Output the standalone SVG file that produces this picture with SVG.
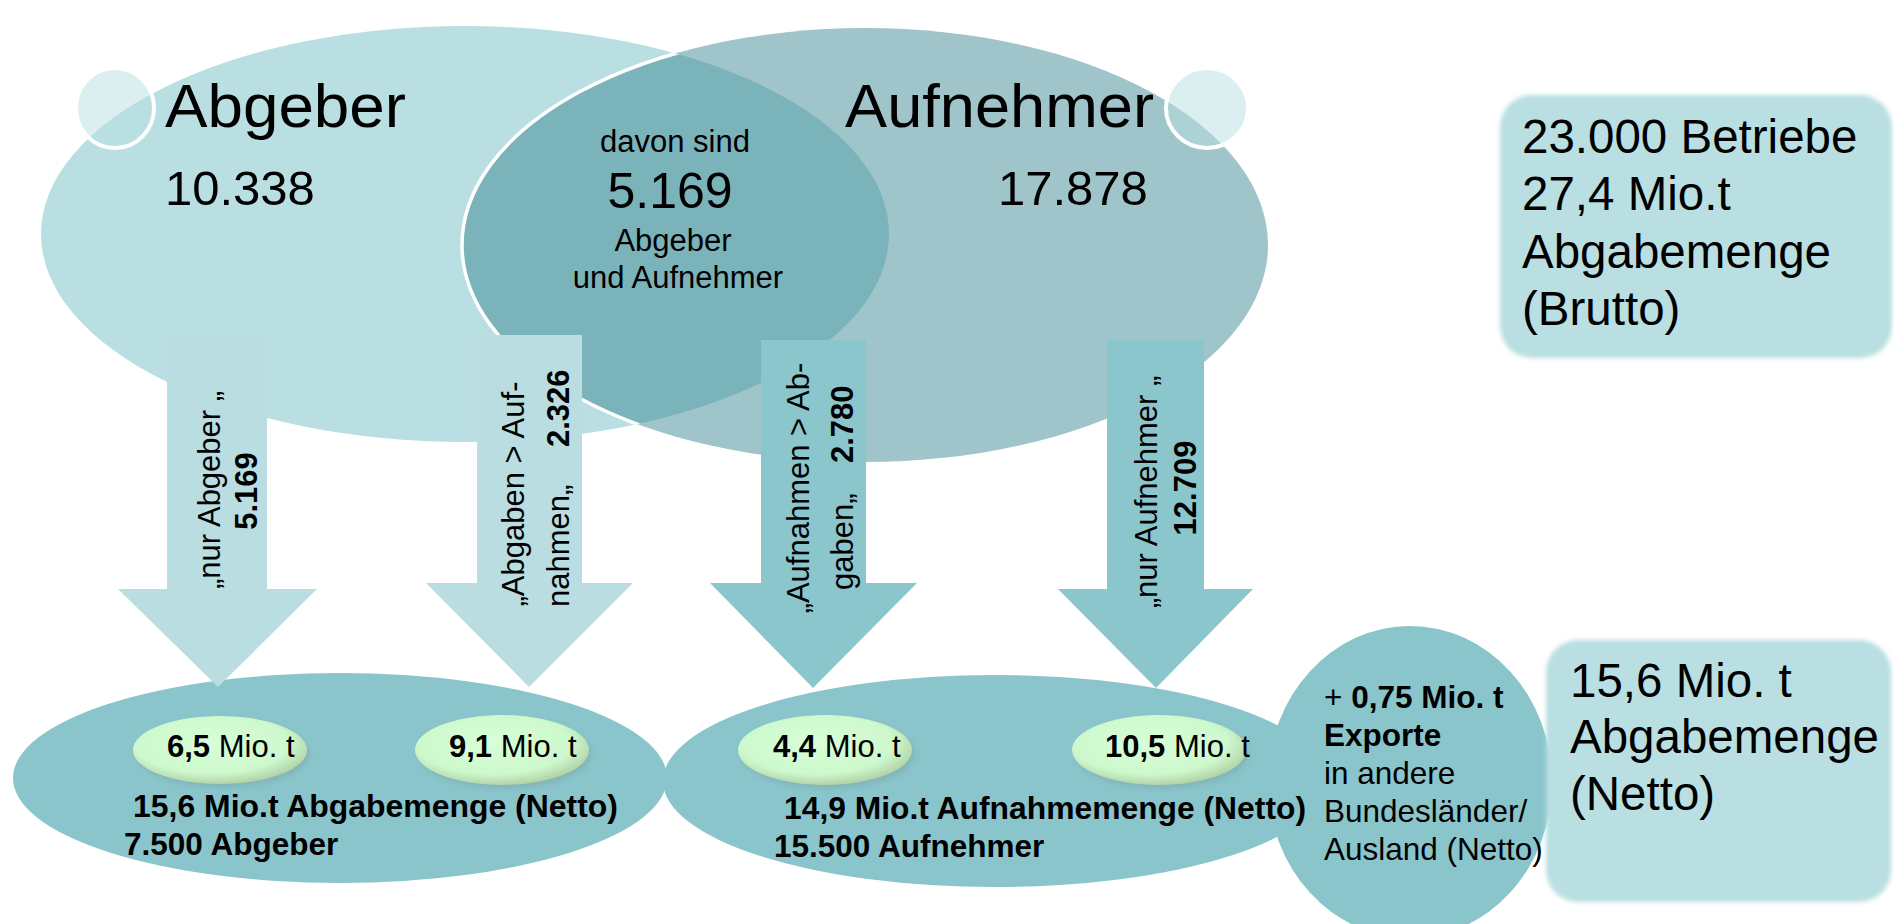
<svg xmlns="http://www.w3.org/2000/svg" width="1894" height="924" viewBox="0 0 1894 924">
<style>
text{font-family:"Liberation Sans",Arial,Helvetica,sans-serif;fill:#000}
.big{font-size:62px}
.num{font-size:49px}
.mid{font-size:31px}
.box{font-size:47.5px}
.arr{font-size:31px}
.b{font-weight:bold}
.lightA{fill:#b9dde1}
.darkA{fill:#8bc6cd}
.bot{fill:#8ac5cc}
.knob{fill:#b9dfe2;fill-opacity:0.5;stroke:#fff;stroke-width:4}
.pill{fill:url(#gr)}
</style>
<defs>
<clipPath id="clipAbg"><ellipse cx="465" cy="234" rx="424" ry="208"/></clipPath>
<radialGradient id="gr" cx="45%" cy="40%" r="62%">
<stop offset="0" stop-color="#d8ffd8"/>
<stop offset="0.72" stop-color="#cdf8cc"/>
<stop offset="1" stop-color="#aecfa4"/>
</radialGradient>
<filter id="soft" x="-5%" y="-5%" width="110%" height="110%"><feGaussianBlur stdDeviation="2.2"/></filter>
<filter id="sh" x="-10%" y="-10%" width="120%" height="130%"><feGaussianBlur stdDeviation="2.5"/></filter>
</defs>

<g id="abgeber">
<ellipse cx="465" cy="234" rx="424" ry="208" fill="#b9dfe2"/>
</g>
<g id="aufnehmer">
<ellipse cx="865" cy="245" rx="403" ry="217" fill="#9fc4c9"/>
<ellipse cx="865" cy="245" rx="403" ry="217" fill="#7ab3ba" clip-path="url(#clipAbg)"/>
<ellipse cx="865" cy="245" rx="403" ry="217" fill="none" stroke="#fff" stroke-width="3.5" clip-path="url(#clipAbg)"/>
</g>
<g id="knob-abgeber"><ellipse class="knob" cx="115" cy="108" rx="39" ry="40"/></g>
<g id="knob-aufnehmer"><ellipse class="knob" cx="1207" cy="108" rx="41" ry="40"/></g>

<g id="label-abgeber">
<text class="big" x="165" y="127" textLength="241" lengthAdjust="spacingAndGlyphs">Abgeber</text>
<text class="num" x="165" y="205">10.338</text>
</g>
<g id="label-aufnehmer">
<text class="big" x="845" y="127" textLength="309" lengthAdjust="spacingAndGlyphs">Aufnehmer</text>
<text class="num" x="998" y="205">17.878</text>
</g>
<g id="label-beide" text-anchor="middle">
<text class="mid" x="675" y="152">davon sind</text>
<text x="670" y="208" style="font-size:50px">5.169</text>
<text class="mid" x="673" y="251">Abgeber</text>
<text class="mid" x="678" y="288">und Aufnehmer</text>
</g>

<g id="box-brutto">
<rect x="1500" y="95" width="392" height="263" rx="32" fill="#b9dfe2" filter="url(#soft)"/>
<text class="box" x="1522" y="153">23.000 Betriebe</text>
<text class="box" x="1522" y="210">27,4 Mio.t</text>
<text class="box" x="1522" y="268">Abgabemenge</text>
<text class="box" x="1522" y="325">(Brutto)</text>
</g>

<g id="ellipse-abgabe">
<ellipse class="bot" cx="340" cy="778" rx="327" ry="105"/>
</g>
<g id="ellipse-aufnahme">
<ellipse class="bot" cx="995" cy="781" rx="332" ry="106"/>
</g>
<g id="circle-export">
<ellipse class="bot" cx="1410" cy="782" rx="142" ry="156"/>
<text class="mid" x="1324" y="708" style="font-size:31.5px">+ <tspan class="b">0,75 Mio. t</tspan></text>
<text class="mid b" x="1324" y="746" style="font-size:31.5px">Exporte</text>
<text class="mid" x="1324" y="784" style="font-size:31.5px">in andere</text>
<text class="mid" x="1324" y="822" style="font-size:31.5px">Bundesländer/</text>
<text class="mid" x="1324" y="860" style="font-size:31.5px">Ausland (Netto)</text>
</g>

<g id="box-netto">
<rect x="1546" y="640" width="345" height="262" rx="32" fill="#b9dfe2" filter="url(#soft)"/>
<text class="box" x="1570" y="697">15,6 Mio. t</text>
<text class="box" x="1570" y="753">Abgabemenge</text>
<text class="box" x="1570" y="810">(Netto)</text>
</g>

<g id="connectors">
<path id="arrow-nur-abgeber" class="lightA" d="M167,335 H267 V589 H317 L218,687 L118,589 H167 Z"/>
<path id="arrow-abgaben" class="lightA" d="M477,335 H582 V583 H633 L529,687 L426,583 H477 Z"/>
<path id="arrow-aufnahmen" class="darkA" d="M761,340 H866 V583 H917 L813,688 L710,583 H761 Z"/>
<path id="arrow-nur-aufnehmer" class="darkA" d="M1107,340 H1204 V589 H1253 L1156,688 L1058,589 H1107 Z"/>
<g class="arr" text-anchor="middle">
<text transform="translate(220,490) rotate(-90)">„nur Abgeber „</text>
<text class="b" transform="translate(257,491) rotate(-90)">5.169</text>
<text transform="translate(524,494) rotate(-90)">„Abgaben &gt; Auf-</text>
<text transform="translate(1157,492) rotate(-90)">„nur Aufnehmer „</text>
<text class="b" transform="translate(1196,488) rotate(-90)">12.709</text>
<text transform="translate(809,488) rotate(-90)">„Aufnahmen &gt; Ab-</text>
</g>
<g class="arr">
<text transform="translate(569,491) rotate(-90)" x="-116">nahmen„<tspan class="b" x="44">2.326</tspan></text>
<text transform="translate(853,488) rotate(-90)" x="-102">gaben„<tspan class="b" x="25">2.780</tspan></text>
</g>
</g>

<g id="pill-65">
<ellipse cx="223" cy="754" rx="87" ry="34" fill="#7aa9a8" opacity="0.5" filter="url(#sh)"/>
<ellipse class="pill" cx="220" cy="750" rx="87" ry="34"/>
<text class="mid" x="167" y="757"><tspan class="b">6,5</tspan> Mio. t</text>
</g>
<g id="pill-91">
<ellipse cx="505" cy="754" rx="87" ry="35" fill="#7aa9a8" opacity="0.5" filter="url(#sh)"/>
<ellipse class="pill" cx="502" cy="750" rx="87" ry="35"/>
<text class="mid" x="449" y="757"><tspan class="b">9,1</tspan> Mio. t</text>
</g>
<g id="pill-44">
<ellipse cx="828" cy="754" rx="87" ry="35" fill="#7aa9a8" opacity="0.5" filter="url(#sh)"/>
<ellipse class="pill" cx="825" cy="750" rx="87" ry="35"/>
<text class="mid" x="773" y="757"><tspan class="b">4,4</tspan> Mio. t</text>
</g>
<g id="pill-105">
<ellipse cx="1162" cy="754" rx="87" ry="35" fill="#7aa9a8" opacity="0.5" filter="url(#sh)"/>
<ellipse class="pill" cx="1159" cy="750" rx="87" ry="35"/>
<text class="mid" x="1105" y="757"><tspan class="b">10,5</tspan> Mio. t</text>
</g>

<g id="text-abgabe">
<text class="b" x="133" y="817" style="font-size:31.5px" textLength="485" lengthAdjust="spacingAndGlyphs">15,6 Mio.t Abgabemenge (Netto)</text>
<text class="b" x="124" y="855" style="font-size:31.5px">7.500 Abgeber</text>
</g>
<g id="text-aufnahme">
<text class="b" x="784" y="819" style="font-size:31.5px" textLength="522" lengthAdjust="spacingAndGlyphs">14,9 Mio.t Aufnahmemenge (Netto)</text>
<text class="b" x="774" y="857" style="font-size:31.5px">15.500 Aufnehmer</text>
</g>
</svg>
